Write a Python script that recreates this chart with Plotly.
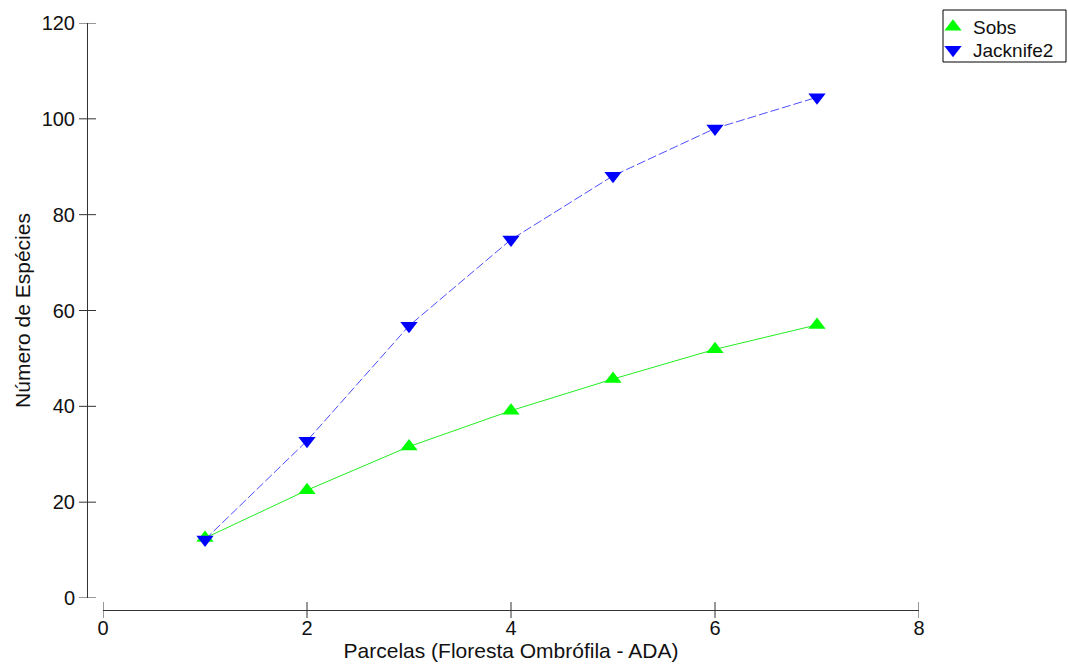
import plotly.graph_objects as go

parcelas = [1, 2, 3, 4, 5, 6, 7]
sobs = [12.5, 22.5, 31.6, 39.1, 45.7, 51.9, 57.0]
jack2 = [12.2, 32.8, 56.8, 74.8, 88.1, 98.0, 104.5]

x_ticks = [0, 2, 4, 6, 8]
y_ticks = [0, 20, 40, 60, 80, 100, 120]

W, H = 1068, 667
ml, mr, mt, mb = 87, 0, 0, 57
pw = W - ml - mr
ph = H - mt - mb


def px_x(px):
    return (px - ml) / pw


def px_y(py):
    return (H - mb - py) / ph


x_dom = [px_x(103), px_x(919)]
y_dom = [px_y(598), px_y(23)]

font = "Liberation Sans, Arial, sans-serif"
axis_color = "#333"

fig = go.Figure()
# lines (no legend)
fig.add_trace(go.Scatter(
    x=parcelas, y=sobs, mode="lines", showlegend=False,
    line=dict(color="#22ee22", width=1),
))
fig.add_trace(go.Scatter(
    x=parcelas, y=jack2, mode="lines", showlegend=False,
    line=dict(color="#4d4dff", width=1, dash="9px,3px"),
))
# markers (legend entries)
fig.add_trace(go.Scatter(
    x=parcelas, y=sobs, name="Sobs", mode="markers", legend="legend",
    marker=dict(symbol="triangle-up", size=15, color="#00ff00"),
))
fig.add_trace(go.Scatter(
    x=parcelas, y=jack2, name="Jacknife2", mode="markers", legend="legend2",
    marker=dict(symbol="triangle-down", size=15, color="#0000ff"),
))

# crossing tick marks (both halves), placed at the axis tick values
shapes = []
for v in x_ticks:
    shapes.append(dict(type="line", xref="x", yref="paper", x0=v, x1=v,
                       y0=-8 / ph, y1=8 / ph, line=dict(color=axis_color, width=1)))
for v in y_ticks:
    shapes.append(dict(type="line", xref="paper", yref="y", x0=-8 / pw, x1=9 / pw,
                       y0=v, y1=v, line=dict(color=axis_color, width=1)))
# legend frame
shapes.append(dict(type="rect", xref="paper", yref="paper",
                   x0=px_x(943), x1=px_x(1066), y0=px_y(62), y1=px_y(10),
                   line=dict(color="#000", width=1), fillcolor="rgba(0,0,0,0)"))

axis_common = dict(
    showgrid=False, zeroline=False,
    tickfont=dict(family=font, size=20, color="#111"),
    showline=True, linecolor=axis_color, linewidth=1,
    ticks="", automargin=False,
    anchor="free", position=0,
)

leg_common = dict(
    xanchor="left", yanchor="top", borderwidth=0, bgcolor="rgba(0,0,0,0)",
    font=dict(family=font, size=19, color="#111"), itemwidth=30,
)

fig.update_layout(
    width=W, height=H,
    margin=dict(l=ml, r=mr, t=mt, b=mb, autoexpand=False),
    plot_bgcolor="white", paper_bgcolor="white",
    font=dict(family=font, size=20, color="#111"),
    xaxis=dict(
        **axis_common, range=[0, 8], tickvals=x_ticks, domain=x_dom,
        title=dict(text="Parcelas (Floresta Ombrófila - ADA)", font=dict(size=21), standoff=4),
    ),
    yaxis=dict(
        **axis_common, range=[0, 120], tickvals=y_ticks, domain=y_dom,
        ticklabelstandoff=8,
        title=dict(text="Número de Espécies", font=dict(size=21), standoff=4),
    ),
    shapes=shapes,
    legend=dict(**leg_common, x=px_x(933), y=px_y(8)),
    legend2=dict(**leg_common, x=px_x(933), y=px_y(31)),
    showlegend=True,
)

fig.write_html(
    "out.html",
    config={"displayModeBar": False},
    post_script="document.body.style.margin='0px';document.body.style.overflow='hidden';",
)
